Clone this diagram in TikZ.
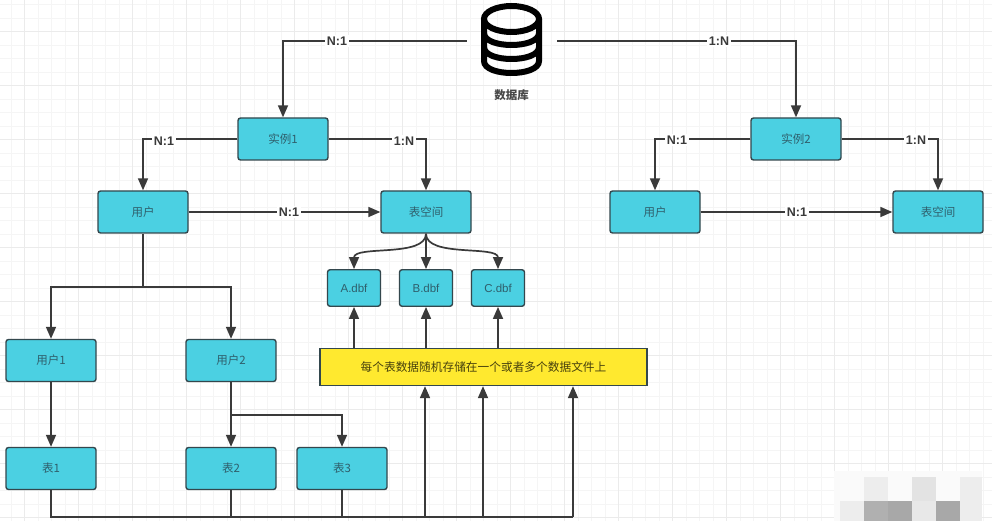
\documentclass[tikz,border=0pt]{standalone}
\usepackage{fontspec}
\setmainfont{Liberation Sans}
\newfontfamily\cjk{Noto Sans CJK SC}
\usetikzlibrary{arrows.meta,calc}
\definecolor{boxcyan}{HTML}{4BD0E2}
\definecolor{boxedge}{HTML}{33474D}
\definecolor{boxtxt}{HTML}{2F5F6C}
\definecolor{wire}{HTML}{3A3A3A}
\definecolor{noteyellow}{HTML}{FFE92F}
\tikzset{
  box/.style={draw=boxedge,fill=boxcyan,line width=1.4pt,rounded corners=2.5pt,minimum width=#1,minimum height=42pt,inner sep=0pt,text=boxtxt,font=\cjk\fontsize{11.5}{13}\selectfont,anchor=center},
  box/.default=90pt,
  filebox/.style={box=53pt,minimum height=36.5pt},
  notebox/.style={draw=boxedge,fill=noteyellow,line width=1.3pt,minimum width=327pt,minimum height=37pt,inner sep=0pt,text=black!72!noteyellow,font=\cjk\fontsize{11.7}{13}\selectfont},
  wireline/.style={draw=wire,line width=1.7pt},
  arr/.style={wireline,-{Triangle[length=12pt,width=10pt]}},
  lbl/.style={fill=white,inner sep=1.5pt,text=wire,font=\bfseries\fontsize{12.5}{14}\selectfont},
  gridminor/.style={draw=black!4,line width=.9pt},
  gridmajor/.style={draw=black!8,line width=1pt},
  dbstroke/.style={draw=black,line width=6pt,line cap=round}
}
\begin{document}
\begin{tikzpicture}[x=1pt,y=-1pt]
\useasboundingbox (0,0) rectangle (992,521);
\fill[white] (0,0) rectangle (992,521);
% background grid
\foreach \k in {0,...,73} {\draw[gridminor] ({-2.3+13.5*\k},0) -- ({-2.3+13.5*\k},521);}
\foreach \k in {0,...,39} {\draw[gridminor] (0,{4.7+13.5*\k}) -- (992,{4.7+13.5*\k});}
\foreach \k in {0,...,18} {\draw[gridmajor] ({24.7+54*\k},0) -- ({24.7+54*\k},521);}
\foreach \k in {0,...,9} {\draw[gridmajor] (0,{31.7+54*\k}) -- (992,{31.7+54*\k});}
% blurred mosaic, bottom right
\fill[black!2] (834,471) rectangle (982,521);
\fill[black!7] (864,477) rectangle (888,501);
\fill[black!11] (912,477) rectangle (936,501);
\fill[black!7] (960,477) rectangle (982,501);
\fill[black!7] (840,501) rectangle (864,521);
\fill[black!31] (864,501) rectangle (888,521);
\fill[black!34] (888,501) rectangle (912,521);
\fill[black!9] (912,501) rectangle (936,521);
\fill[black!34] (936,501) rectangle (960,521);
\fill[black!7] (960,501) rectangle (982,521);
% database icon
\node[minimum width=90pt,minimum height=74pt,inner sep=0pt] (db) at (512,41) {};
\draw[dbstroke] (511.5,19) ellipse [x radius=27.5,y radius=13];
\draw[dbstroke] (484,19) -- (484,61) .. controls (484,77) and (539,77) .. (539,61) -- (539,19);
\draw[dbstroke] (484,33) .. controls (484,49) and (539,49) .. (539,33);
\draw[dbstroke] (484,47) .. controls (484,63) and (539,63) .. (539,47);
\node[text=black!72,font=\cjk\bfseries\fontsize{11.5}{13}\selectfont] (dbname) at (511.5,95) {数据库};
% boxes
\node[box] (inst1) at (283,139) {实例1};
\node[box] (inst2) at (796,139) {实例2};
\node[box] (userA) at (143,212) {用户};
\node[box] (spaceA) at (426,212) {表空间};
\node[box] (userB) at (655,212) {用户};
\node[box] (spaceB) at (938,212) {表空间};
\node[filebox] (fileA) at (354,288) {\fontspec{Liberation Sans}A.dbf};
\node[filebox] (fileB) at (426,288) {\fontspec{Liberation Sans}B.dbf};
\node[filebox] (fileC) at (498,288) {\fontspec{Liberation Sans}C.dbf};
\node[notebox] (note) at (483.5,367) {每个表数据随机存储在一个或者多个数据文件上};
\node[box] (user1) at (51,360.5) {用户1};
\node[box] (user2) at (231,360.5) {用户2};
\node[box] (tab1) at (51,468.5) {表1};
\node[box] (tab2) at (231,468.5) {表2};
\node[box] (tab3) at (342,468.5) {表3};
% routing points
\coordinate (fork) at (143,287);
\coordinate (split) at (231,415);
\coordinate (busA) at (425,517);
\coordinate (busB) at (483,517);
\coordinate (busC) at (573,517);
% connectors
\draw[arr] (db.west) -| (inst1.north);
\draw[arr] (db.east) -| (inst2.north);
\draw[arr] (inst1.west) -| (userA.north);
\draw[arr] (inst1.east) -| (spaceA.north);
\draw[arr] (inst2.west) -| (userB.north);
\draw[arr] (inst2.east) -| (spaceB.north);
\draw[arr] (userA.east) -- (spaceA.west);
\draw[arr] (userB.east) -- (spaceB.west);
\draw[arr] (spaceA.south) .. controls +(0,24) and +(0,-24) .. (fileA.north);
\draw[arr] (spaceA.south) -- (fileB.north);
\draw[arr] (spaceA.south) .. controls +(0,24) and +(0,-24) .. (fileC.north);
\draw[arr] (note.north -| fileA.south) -- (fileA.south);
\draw[arr] (note.north -| fileB.south) -- (fileB.south);
\draw[arr] (note.north -| fileC.south) -- (fileC.south);
\draw[wireline] (userA.south) -- (fork);
\draw[arr] (fork) -| (user1.north);
\draw[arr] (fork) -| (user2.north);
\draw[arr] (user1.south) -- (tab1.north);
\draw[arr] (user2.south) -- (tab2.north);
\draw[arr] (split) -| (tab3.north);
\draw[wireline] (tab1.south) |- (busC);
\draw[wireline] (tab2.south) -- (tab2.south |- busC);
\draw[wireline] (tab3.south) -- (tab3.south |- busC);
\draw[arr] (busA) -- (busA |- note.south);
\draw[arr] (busB) -- (busB |- note.south);
\draw[arr] (busC) -- (busC |- note.south);
% labels
\node[lbl] (l1) at (337,41) {N:1};
\node[lbl] (l2) at (719,41) {1:N};
\node[lbl] (l3) at (164,141) {N:1};
\node[lbl] (l4) at (404,141) {1:N};
\node[lbl] (l5) at (677,140) {N:1};
\node[lbl] (l6) at (916,140) {1:N};
\node[lbl] (l7) at (289,212) {N:1};
\node[lbl] (l8) at (797,212) {N:1};
\end{tikzpicture}
\end{document}
